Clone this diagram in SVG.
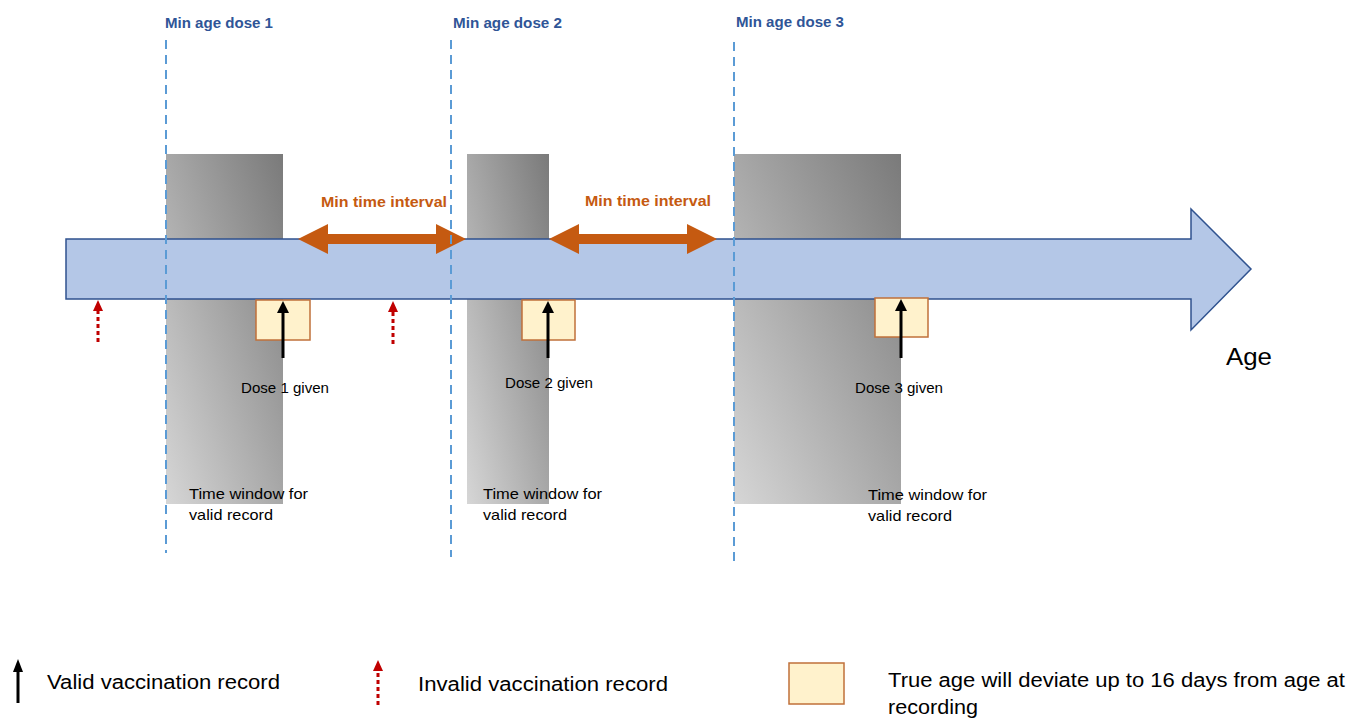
<svg xmlns="http://www.w3.org/2000/svg" width="1349" height="720" viewBox="0 0 1349 720">
<style>
text{font-family:"Liberation Sans",Arial,sans-serif;fill:#000}
.lbl{font-size:15px}
.min{font-size:15px;font-weight:bold;fill:#2F5597}
.int{font-size:15px;font-weight:bold;fill:#C55A11}
.leg{font-size:20px}
.dash{stroke:#5B9BD5;stroke-width:2;stroke-dasharray:9 6;fill:none}
.box{fill:#FFF2CC;stroke:#C0703A;stroke-width:1.5}
.valid{stroke:#000;stroke-width:3;fill:none}
.invalid{stroke:#C00000;stroke-width:3;stroke-dasharray:4 3;fill:none}
</style>
<defs>
<linearGradient id="g" x1="0" y1="1" x2="1" y2="0">
<stop offset="0" stop-color="#D6D6D6"/>
<stop offset="1" stop-color="#7A7A7A"/>
</linearGradient>
</defs>
<rect width="1349" height="720" fill="#fff"/>
<g id="windows">
<rect id="window1" x="166" y="154" width="117" height="350" fill="url(#g)"/>
<rect id="window2" x="467" y="154" width="82" height="350" fill="url(#g)"/>
<rect id="window3" x="734" y="154" width="167" height="350" fill="url(#g)"/>
</g>
<g id="age-axis">
<path d="M66,239 H1191 V209 L1251,269 L1191,330 V299 H66 Z" fill="#B4C7E7" stroke="#2F528F" stroke-width="1.5"/>
<text x="1226" y="365" font-size="24" textLength="46" lengthAdjust="spacingAndGlyphs">Age</text>
</g>
<g id="intervals">
<path d="M298,239 L328,224 V234 H436 V224 L466,239 L436,254 V244 H328 V254 Z" fill="#C55A11"/>
<path d="M549,239 L579,224 V234 H687 V224 L717,239 L687,254 V244 H579 V254 Z" fill="#C55A11"/>
<text class="int" x="321" y="207" textLength="126" lengthAdjust="spacingAndGlyphs">Min time interval</text>
<text class="int" x="585" y="206" textLength="126" lengthAdjust="spacingAndGlyphs">Min time interval</text>
</g>
<g id="min-ages">
<line class="dash" x1="166" y1="40" x2="166" y2="553"/>
<line class="dash" x1="451" y1="40" x2="451" y2="557"/>
<line class="dash" x1="734" y1="42" x2="734" y2="561"/>
<text class="min" x="165" y="28" textLength="108" lengthAdjust="spacingAndGlyphs">Min age dose 1</text>
<text class="min" x="453" y="28" textLength="109" lengthAdjust="spacingAndGlyphs">Min age dose 2</text>
<text class="min" x="736" y="27" textLength="108" lengthAdjust="spacingAndGlyphs">Min age dose 3</text>
</g>
<g id="dose1">
<rect class="box" x="256" y="300" width="54" height="40"/>
<line class="valid" x1="283" y1="358" x2="283" y2="312"/>
<polygon points="277,313 283,301 289,313" fill="#000"/>
<text class="lbl" x="241" y="393" textLength="88" lengthAdjust="spacingAndGlyphs">Dose 1 given</text>
<text class="lbl" x="189" y="499" textLength="119" lengthAdjust="spacingAndGlyphs">Time window for</text>
<text class="lbl" x="189" y="520" textLength="84" lengthAdjust="spacingAndGlyphs">valid record</text>
</g>
<g id="dose2">
<rect class="box" x="522" y="300" width="53" height="40"/>
<line class="valid" x1="548" y1="358" x2="548" y2="312"/>
<polygon points="542,313 548,301 554,313" fill="#000"/>
<text class="lbl" x="505" y="388" textLength="88" lengthAdjust="spacingAndGlyphs">Dose 2 given</text>
<text class="lbl" x="483" y="499" textLength="119" lengthAdjust="spacingAndGlyphs">Time window for</text>
<text class="lbl" x="483" y="520" textLength="84" lengthAdjust="spacingAndGlyphs">valid record</text>
</g>
<g id="dose3">
<rect class="box" x="875" y="298" width="53" height="39"/>
<line class="valid" x1="901" y1="358" x2="901" y2="310"/>
<polygon points="895,311 901,299 907,311" fill="#000"/>
<text class="lbl" x="855" y="393" textLength="88" lengthAdjust="spacingAndGlyphs">Dose 3 given</text>
<text class="lbl" x="868" y="500" textLength="119" lengthAdjust="spacingAndGlyphs">Time window for</text>
<text class="lbl" x="868" y="521" textLength="84" lengthAdjust="spacingAndGlyphs">valid record</text>
</g>
<g id="invalid-records">
<line class="invalid" x1="98" y1="342" x2="98" y2="311"/>
<polygon points="93,311 98,300 103,311" fill="#C00000"/>
<line class="invalid" x1="393" y1="344" x2="393" y2="312"/>
<polygon points="388,312 393,301 398,312" fill="#C00000"/>
</g>
<g id="legend">
<line class="valid" x1="18" y1="703" x2="18" y2="671"/>
<polygon points="13,672 18,659 23,672" fill="#000"/>
<text class="leg" x="47" y="689" textLength="233" lengthAdjust="spacingAndGlyphs">Valid vaccination record</text>
<line class="invalid" x1="378" y1="705" x2="378" y2="671"/>
<polygon points="373,671 378,660 383,671" fill="#C00000"/>
<text class="leg" x="418" y="691" textLength="250" lengthAdjust="spacingAndGlyphs">Invalid vaccination record</text>
<rect class="box" x="789" y="663" width="55" height="41"/>
<text class="leg" x="888" y="687" textLength="457" lengthAdjust="spacingAndGlyphs">True age will deviate up to 16 days from age at</text>
<text class="leg" x="888" y="714" textLength="90" lengthAdjust="spacingAndGlyphs">recording</text>
</g>
</svg>
